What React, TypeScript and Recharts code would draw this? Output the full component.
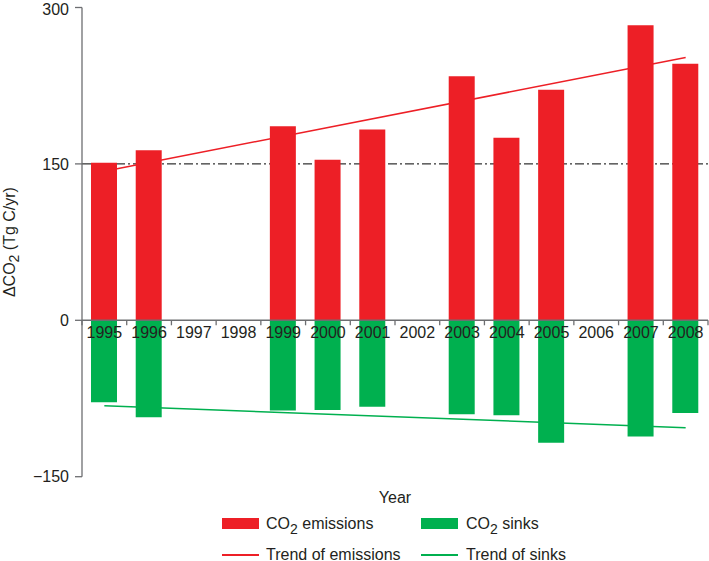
import React from "react";
import { Bar, ComposedChart, Line, ReferenceLine, XAxis, YAxis } from "recharts";

const years = ["1995", "1996", "1997", "1998", "1999", "2000", "2001", "2002", "2003", "2004", "2005", "2006", "2007", "2008"];
const emissions = [151, 163, null, null, 186, 154, 183, null, 234, 175, 221, null, 283, 246];
const sinks = [-78.5, -93, null, null, -86.5, -86, -83, null, -90, -91, -117.5, null, -111.5, -89];
const emissionsTrend = [143, null, null, null, null, null, null, null, null, null, null, null, null, 252];
const sinksTrend = [-82, null, null, null, null, null, null, null, null, null, null, null, null, -103];
const yTicks = [-150, 0, 150, 300];
const referenceLevel = 150;

const RED = "#ed1f26";
const GREEN = "#00b04f";
const AXIS = "#6d6e71";
const INK = "#231f20";
const FONT = '"Liberation Sans", Arial, Helvetica, sans-serif';

const W = 709;
const H = 561;
const X_AXIS_H = 20;
const M = { top: 7.5, right: 1, bottom: 84.3 - X_AXIS_H, left: 0 };
const Y_AXIS_W = 82;
const Y_MIN = -150;
const Y_MAX = 300;
const PLOT_W = W - M.left - M.right - Y_AXIS_W;
const PLOT_H = H - M.top - M.bottom - X_AXIS_H;
const ZERO_Y = M.top + (PLOT_H * Y_MAX) / (Y_MAX - Y_MIN);
const STEP = PLOT_W / years.length;

const data = years.map((year, i) => ({
  year,
  emissions: emissions[i],
  sinks: sinks[i],
  emissionsTrend: emissionsTrend[i],
  sinksTrend: sinksTrend[i],
}));

// x axis sits on the zero line, tick marks fall between the years
function YearTick(props: any) {
  const { x, payload, index } = props;
  const left = x - STEP / 2;
  const right = x + STEP / 2;
  return (
    <g>
      <line x1={left} x2={left} y1={ZERO_Y} y2={ZERO_Y + 5} stroke={AXIS} strokeWidth={1.3} />
      {index === years.length - 1 && (
        <line x1={right} x2={right} y1={ZERO_Y} y2={ZERO_Y + 5} stroke={AXIS} strokeWidth={1.3} />
      )}
      <text x={x} y={ZERO_Y + 17.5} textAnchor="middle" fontSize={16} fontFamily={FONT} fill={INK}>
        {payload.value}
      </text>
    </g>
  );
}

function YLabel() {
  const cy = M.top + PLOT_H / 2;
  return (
    <text transform={`translate(14.5, ${cy}) rotate(-90)`} textAnchor="middle" fontSize={16} fontFamily={FONT} fill={INK}>
      <tspan>ΔCO</tspan>
      <tspan dy={4} fontSize={14}>2</tspan>
      <tspan dy={-4}> (Tg C/yr)</tspan>
    </text>
  );
}

const fmtY = (v: number) => (v < 0 ? `\u2212${Math.abs(v)}` : `${v}`);

function Co2({ text }: { text: string }) {
  return (
    <span>
      CO<span style={{ fontSize: 14, position: "relative", top: 5 }}>2</span> {text}
    </span>
  );
}

export default function App() {
  const textStyle: React.CSSProperties = {
    position: "absolute",
    fontSize: 16,
    lineHeight: "18px",
    color: INK,
    whiteSpace: "nowrap",
  };
  return (
    <div style={{ position: "absolute", left: 0, top: 0, width: W, height: H, fontFamily: FONT, background: "#fff" }}>
      <ComposedChart width={W} height={H} data={data} margin={M} stackOffset="sign">
        <ReferenceLine
          y={referenceLevel}
          stroke="#000"
          strokeWidth={1}
          strokeDasharray="9 3 2 3"
          zIndex={100}
        />
        <Line
          dataKey="emissionsTrend"
          stroke={RED}
          strokeWidth={1.5}
          dot={false}
          connectNulls
          isAnimationActive={false}
          zIndex={250}
        />
        <Line
          dataKey="sinksTrend"
          stroke={GREEN}
          strokeWidth={1.5}
          dot={false}
          connectNulls
          isAnimationActive={false}
          zIndex={250}
        />
        <Bar dataKey="emissions" stackId="co2" fill={RED} barSize={26} isAnimationActive={false} />
        <Bar dataKey="sinks" stackId="co2" fill={GREEN} barSize={26} isAnimationActive={false} />
        <ReferenceLine y={0} stroke={AXIS} strokeWidth={1.5} zIndex={450} />
        <XAxis
          dataKey="year"
          height={X_AXIS_H}
          axisLine={false}
          tickLine={false}
          interval={0}
          tick={<YearTick />}
        />
        <YAxis
          width={Y_AXIS_W}
          domain={[Y_MIN, Y_MAX]}
          ticks={yTicks}
          tickFormatter={fmtY}
          allowDataOverflow
          axisLine={{ stroke: AXIS, strokeWidth: 1.3 }}
          tickLine={{ stroke: AXIS, strokeWidth: 1.3 }}
          tickSize={7}
          tickMargin={6}
          tick={{ fontSize: 16, fill: INK, fontFamily: FONT }}
          label={<YLabel />}
        />
      </ComposedChart>

      <div style={{ ...textStyle, left: 395, top: 489, transform: "translateX(-50%)" }}>Year</div>

      <div style={{ position: "absolute", left: 222, top: 518, width: 37, height: 11, background: RED }} />
      <div style={{ ...textStyle, left: 266, top: 514.5 }}>
        <Co2 text="emissions" />
      </div>
      <div style={{ position: "absolute", left: 421, top: 518, width: 37, height: 11, background: GREEN }} />
      <div style={{ ...textStyle, left: 466, top: 514.5 }}>
        <Co2 text="sinks" />
      </div>

      <div style={{ position: "absolute", left: 222, top: 554, width: 37, height: 1.5, background: RED }} />
      <div style={{ ...textStyle, left: 266, top: 545.5 }}>Trend of emissions</div>
      <div style={{ position: "absolute", left: 421, top: 554, width: 37, height: 1.5, background: GREEN }} />
      <div style={{ ...textStyle, left: 466, top: 545.5 }}>Trend of sinks</div>
    </div>
  );
}
